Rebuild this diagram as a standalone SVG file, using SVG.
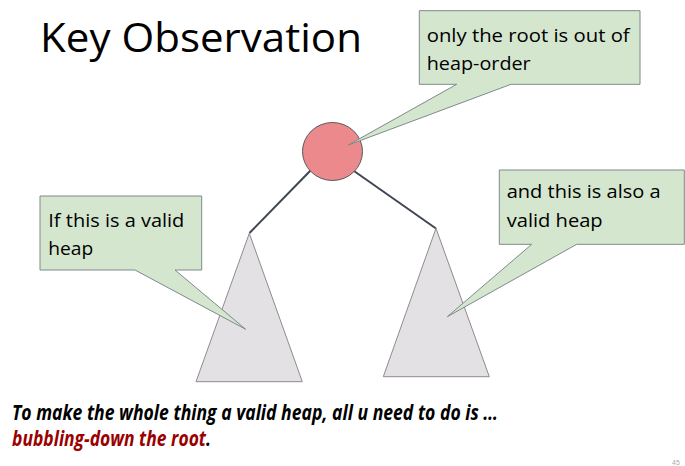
<svg xmlns="http://www.w3.org/2000/svg" width="685" height="466" viewBox="0 0 685 466">
<style>
.callout{fill:#d5e6cf;stroke:#7d8a8c;stroke-width:1}
.ctext{font-family:"Open Sans","Liberation Sans",sans-serif;font-size:19px;fill:#000}
.tri{fill:#e3e1e4;stroke:#8c8c8c;stroke-width:1}
.edge{stroke:#3e4652;stroke-width:2;fill:none}
.bottom{font-family:"Open Sans","Liberation Sans",sans-serif;font-size:21px;font-weight:bold;font-style:italic}
</style>
<rect width="685" height="466" fill="#fff"/>
<text x="40" y="52" font-family="'Open Sans','Liberation Sans',sans-serif" font-size="41" fill="#000" textLength="322" lengthAdjust="spacingAndGlyphs">Key Observation</text>
<g id="connectors">
<line class="edge" x1="249.5" y1="233" x2="311" y2="170"/>
<line class="edge" x1="436" y1="228.5" x2="354" y2="171"/>
</g>
<g id="left-tree"><polygon class="tri" points="249.3,233.3 196,381.7 302.3,381.7"/></g>
<g id="right-tree"><polygon class="tri" points="436,228.3 383.3,376.7 489.3,376.7"/></g>
<g id="root"><ellipse cx="332.5" cy="151.5" rx="30" ry="29" fill="#eb898d" stroke="#5a5a5a" stroke-width="1"/></g>
<g id="callout-root">
<path class="callout" d="M419.3,10.7 H640 V84.3 H511 L348.3,145 L456.7,84.3 H419.3 Z"/>
<text class="ctext" x="426.7" y="41.7" textLength="203" lengthAdjust="spacingAndGlyphs">only the root is out of</text>
<text class="ctext" x="426.7" y="70" textLength="104" lengthAdjust="spacingAndGlyphs">heap-order</text>
</g>
<g id="callout-left">
<path class="callout" d="M40,196 H201.7 V270 H175 L245.7,329.3 L135,270 H40 Z"/>
<text class="ctext" x="48.3" y="226.7" textLength="136" lengthAdjust="spacingAndGlyphs">If this is a valid</text>
<text class="ctext" x="48.3" y="255" textLength="45" lengthAdjust="spacingAndGlyphs">heap</text>
</g>
<g id="callout-right">
<path class="callout" d="M499.3,170 H684.3 V244.3 H576.7 L447.3,316.7 L531.7,244.3 H499.3 Z"/>
<text class="ctext" x="506.7" y="198" textLength="154" lengthAdjust="spacingAndGlyphs">and this is also a</text>
<text class="ctext" x="506.7" y="226.7" textLength="96" lengthAdjust="spacingAndGlyphs">valid heap</text>
</g>
<text class="bottom" x="12" y="420" fill="#000" textLength="486" lengthAdjust="spacingAndGlyphs">To make the whole thing a valid heap, all u need to do is …</text>
<text class="bottom" x="12" y="445.5" fill="#990000" textLength="199" lengthAdjust="spacingAndGlyphs">bubbling-down the root<tspan fill="#000">.</tspan></text>
<text x="672" y="465" font-family="'Liberation Sans',sans-serif" font-size="7" fill="#aaa">45</text>
</svg>
